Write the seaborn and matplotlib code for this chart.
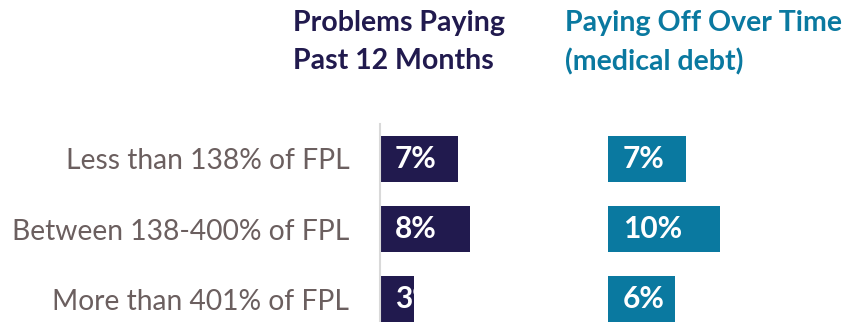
import matplotlib
matplotlib.use("Agg")
import matplotlib.pyplot as plt
import seaborn as sns
import pandas as pd

# Data
categories = ["Less than 138% of FPL", "Between 138-400% of FPL", "More than 401% of FPL"]
problems_paying = [7, 8, 3]
paying_over_time = [7, 10, 6]
titles = ["Problems Paying\nPast 12 Months", "Paying Off Over Time\n(medical debt)"]

NAVY = "#211a4e"
TEAL = "#0a79a0"
LABEL_GRAY = "#6b5f5f"

sns.set_theme(style="white")
plt.rcParams["font.family"] = ["Lato", "DejaVu Sans"]

W, H = 856, 322
fig = plt.figure(figsize=(W / 100, H / 100), dpi=100)

px_per_unit = 11.2
row_h = 70.0
top_px, bottom_px = 124, 322
first_center = 159
y_top = -(first_center - top_px) / row_h
y_bot = 2 + (bottom_px - (first_center + 2 * row_h)) / row_h


def make_axes(x0_px, x1_px):
    return fig.add_axes([x0_px / W, 1 - bottom_px / H, (x1_px - x0_px) / W,
                         (bottom_px - top_px) / H])


ax1 = make_axes(380, 600)
ax2 = make_axes(608, 856)

df1 = pd.DataFrame({"cat": categories, "val": problems_paying})
df2 = pd.DataFrame({"cat": categories, "val": paying_over_time})

for ax, df, color in [(ax1, df1, NAVY), (ax2, df2, TEAL)]:
    sns.barplot(data=df, x="val", y="cat", orient="h", color=color,
                width=46 / row_h, saturation=1, ax=ax)
    for patch in ax.patches:
        patch.set_edgecolor("none")
    ax.set_xlim(0, ax.bbox.width / px_per_unit)
    ax.set_ylim(y_bot, y_top)
    ax.set_xlabel("")
    ax.set_ylabel("")
    ax.set_xticks([])
    for s in ["top", "right", "bottom", "left"]:
        ax.spines[s].set_visible(False)
    for i, v in enumerate(df["val"]):
        ax.text(1.35, i, f"{v}%", color="white", fontsize=21.5, fontweight="bold",
                va="center", ha="left", clip_on=True)

ax1.spines["left"].set_visible(True)
ax1.spines["left"].set_color("#d9d9d9")
ax1.spines["left"].set_linewidth(1.5)
ax1.tick_params(axis="y", length=0, pad=22, labelsize=20.3, labelcolor=LABEL_GRAY)
ax2.set_yticks([])

fig.text(293 / W, 1 - 10 / H, titles[0], color=NAVY, fontsize=20.5,
         fontweight="bold", va="top", ha="left", linespacing=1.55)
fig.text(565 / W, 1 - 10 / H, titles[1], color=TEAL, fontsize=20.5,
         fontweight="bold", va="top", ha="left", linespacing=1.55)

fig.savefig("out.png", dpi=100)
